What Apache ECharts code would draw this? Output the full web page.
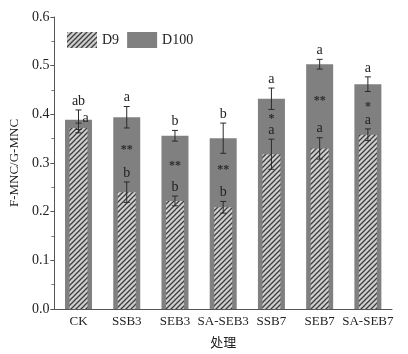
<!DOCTYPE html>
<html>
<head>
<meta charset="UTF-8">
<title>F-MNC/G-MNC</title>
<script src="https://cdn.jsdelivr.net/npm/echarts@6/dist/echarts.min.js"></script>
<style>
  html, body { margin: 0; padding: 0; background: #fff; }
  #container { width: 408px; height: 354px; }
</style>
</head>
<body>
<div id="container"></div>
<script>
// data
var categories = ['CK', 'SSB3', 'SEB3', 'SA-SEB3', 'SSB7', 'SEB7', 'SA-SEB7'];
var d100 = [0.389, 0.394, 0.356, 0.351, 0.432, 0.503, 0.462];
var d100Err = [0.020, 0.022, 0.011, 0.031, 0.022, 0.010, 0.015];
var d100Letters = ['ab', 'a', 'b', 'b', 'a', 'a', 'a'];
var d9 = [0.372, 0.240, 0.222, 0.209, 0.318, 0.330, 0.358];
var d9Err = [0.010, 0.021, 0.010, 0.012, 0.031, 0.022, 0.012];
var d9Letters = ['a', 'b', 'b', 'b', 'a', 'a', 'a'];
var stars = ['', '**', '**', '**', '*', '**', '*'];

var serif = 'Liberation Serif';

// hatch fill for D9
function makeHatch() {
  var c = document.createElement('canvas');
  c.width = 5; c.height = 5;
  var g = c.getContext('2d');
  g.fillStyle = '#cfcfcf';
  g.fillRect(0, 0, 5, 5);
  g.strokeStyle = '#3c3c3c';
  g.lineWidth = 1.3;
  g.beginPath();
  g.moveTo(-1, 6); g.lineTo(6, -1);
  g.moveTo(-1, 1); g.lineTo(1, -1);
  g.moveTo(4, 6); g.lineTo(6, 4);
  g.stroke();
  return c;
}
var hatch = { image: makeHatch(), repeat: 'repeat' };

// error bars + letters for one group
function errSeries(name, vals, errs, letters, xIdx) {
  var rows = vals.map(function (v, i) { return [i, v, errs[i]]; });
  return {
    name: name + '-err',
    type: 'custom',
    xAxisIndex: xIdx,
    z: 5,
    data: rows,
    renderItem: function (params, api) {
      var i = api.value(0), v = api.value(1), e = api.value(2);
      var top = api.coord([i, v + e]);
      var bot = api.coord([i, v - e]);
      var cap = 3;
      var dx = 0, dy = -2;
      // D9 letter moves beside the D100 error bar where they overlap
      if (name === 'D9' && v + e > d100[i] - d100Err[i]) { dx = 7; dy = 2; }
      return {
        type: 'group',
        children: [
          { type: 'line', shape: { x1: top[0], y1: top[1], x2: bot[0], y2: bot[1] }, style: { stroke: '#2b2b2b', lineWidth: 1 } },
          { type: 'line', shape: { x1: top[0] - cap, y1: top[1], x2: top[0] + cap, y2: top[1] }, style: { stroke: '#2b2b2b', lineWidth: 1 } },
          { type: 'line', shape: { x1: bot[0] - cap, y1: bot[1], x2: bot[0] + cap, y2: bot[1] }, style: { stroke: '#2b2b2b', lineWidth: 1 } },
          { type: 'text', x: top[0] + dx, y: top[1] + dy, style: { text: letters[i], fill: '#222', font: '14px ' + serif, align: 'center', verticalAlign: 'bottom' } }
        ]
      };
    }
  };
}

var myChart = echarts.init(document.getElementById('container'));
var option = {
  animation: false,
  backgroundColor: '#fff',
  textStyle: { fontFamily: serif },
  legend: {
    left: 62,
    top: 27,
    itemWidth: 30,
    itemHeight: 16,
    itemGap: 8,
    icon: 'rect',
    data: ['D9', 'D100'],
    textStyle: { fontFamily: serif, fontSize: 14, color: '#222' }
  },
  grid: { left: 51, right: 16, top: 17, bottom: 41 },
  xAxis: [
    {
      type: 'category',
      data: categories,
      name: '处理',
      nameLocation: 'middle',
      nameGap: 27,
      nameTextStyle: { fontFamily: 'Noto Sans CJK SC', fontSize: 13, color: '#222' },
      axisLine: { lineStyle: { color: '#555' } },
      axisTick: { inside: true, length: 3, lineStyle: { color: '#555' } },
      axisLabel: { fontFamily: serif, fontSize: 13, color: '#222', margin: 6, interval: 0 }
    },
    {
      type: 'category',
      data: categories,
      show: false
    }
  ],
  yAxis: {
    type: 'value',
    min: 0,
    max: 0.6,
    interval: 0.1,
    name: 'F-MNC/G-MNC',
    nameLocation: 'middle',
    nameGap: 30,
    nameTextStyle: { fontFamily: serif, fontSize: 13, color: '#222' },
    axisLine: { show: true, lineStyle: { color: '#555' } },
    axisTick: { show: true, length: 4, lineStyle: { color: '#555' } },
    minorTick: { show: true, splitNumber: 2, length: 3, lineStyle: { color: '#777' } },
    splitLine: { show: false },
    axisLabel: {
      fontFamily: serif, fontSize: 14, color: '#222', margin: 5,
      formatter: function (v) { return v.toFixed(1); }
    }
  },
  series: [
    {
      name: 'D100',
      type: 'bar',
      xAxisIndex: 0,
      barWidth: 27,
      data: d100,
      itemStyle: { color: '#808080' }
    },
    {
      name: 'D9',
      type: 'bar',
      xAxisIndex: 1,
      barWidth: 18,
      data: d9,
      z: 3,
      itemStyle: { color: hatch }
    },
    errSeries('D100', d100, d100Err, d100Letters, 0),
    errSeries('D9', d9, d9Err, d9Letters, 1),
    {
      name: 'stars',
      type: 'custom',
      xAxisIndex: 0,
      z: 6,
      data: categories.map(function (c, i) { return [i, (d9[i] + d9Err[i] + d100[i]) / 2]; }),
      renderItem: function (params, api) {
        var p = api.coord([api.value(0), api.value(1)]);
        return { type: 'text', x: p[0], y: p[1], style: { text: stars[params.dataIndex], fill: '#2b2b2b', font: 'bold 12px ' + serif, align: 'center', verticalAlign: 'middle' } };
      }
    }
  ]
};
myChart.setOption(option);
</script>
</body>
</html>
